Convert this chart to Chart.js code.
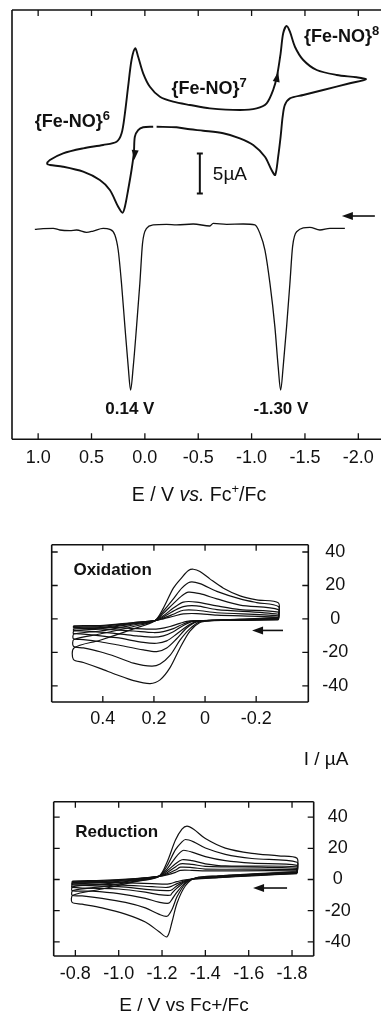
<!DOCTYPE html>
<html>
<head>
<meta charset="utf-8">
<title>CV Fe-NO</title>
<script src="https://cdn.jsdelivr.net/npm/chart.js@4.4.1/dist/chart.umd.min.js"></script>
<style>
  html, body { margin: 0; padding: 0; background: #fff; }
  body { width: 381px; height: 1013px; overflow: hidden; position: relative; }
  canvas { position: absolute; left: 0; }
</style>
</head>
<body>
<canvas id="cvTop" width="390" height="530" style="top:0"></canvas>
<canvas id="cvOx" width="381" height="250" style="top:520px"></canvas>
<canvas id="cvRed" width="381" height="233" style="top:780px"></canvas>
<script>
// ---------- DADOS ----------

// painel superior: voltametria cíclica (CV) e pulso diferencial (DPV)
const topTicksE = [1.0, 0.5, 0.0, -0.5, -1.0, -1.5, -2.0];
const cvE = [-0.078, 0.016, 0.063, 0.094, 0.103, 0.125, 0.157, 0.187, 0.209, 0.250, 0.328, 0.422, 0.578, 0.766, 0.890, 0.916,
  0.890, 0.766, 0.578, 0.391, 0.265, 0.218, 0.187, 0.157, 0.125, 0.091, 0.063, 0.016, -0.047, -0.141, -0.265, -0.422,
  -0.609, -0.890, -1.047, -1.141, -1.202, -1.240, -1.272, -1.296, -1.328, -1.359, -1.406, -1.484, -1.610, -1.797, -1.984, -2.071,
  -1.921, -1.671, -1.484, -1.359, -1.312, -1.291, -1.272, -1.249, -1.221, -1.187, -1.125, -1.015, -0.890, -0.734, -0.547, -0.422, -0.297, -0.110];
const cvI = [21.66, 21.59, 21.25, 20.41, 18.38, 16.25, 13.75, 11.66, 10.91, 11.66, 13.75, 15.0, 16.04, 16.66, 16.88, 17.0,
  17.5, 18.34, 18.96, 19.38, 19.79, 20.84, 23.34, 26.66, 30.0, 31.46, 30.41, 28.34, 26.66, 25.41, 24.79, 24.38,
  23.96, 23.75, 23.96, 24.59, 26.25, 28.13, 30.84, 33.34, 34.25, 33.54, 31.66, 30.0, 28.75, 28.13, 27.84, 27.59,
  27.09, 26.25, 25.63, 25.21, 24.38, 22.91, 20.41, 17.91, 15.63, 16.25, 17.91, 19.38, 20.21, 20.84, 21.16, 21.34, 21.59, 21.66];
const dpvE = [1.031, 0.953, 0.859, 0.797, 0.703, 0.640, 0.547, 0.484, 0.391, 0.328, 0.281, 0.250, 0.219, 0.187, 0.156, 0.134,
  0.109, 0.078, 0.047, 0.022, -0.016, -0.078, -0.203, -0.297, -0.453, -0.609, -0.640, -0.766, -0.922, -1.031, -1.078, -1.125,
  -1.172, -1.218, -1.249, -1.272, -1.296, -1.328, -1.359, -1.384, -1.422, -1.546, -1.640, -1.734, -1.874];
const dpvI = [8.83, 8.92, 8.96, 8.75, 8.67, 8.75, 8.46, 8.62, 8.96, 8.83, 8.13, 6.25, 2.08, -3.33, -8.33, -11.25,
  -8.33, -3.33, 2.08, 7.08, 8.96, 9.38, 9.46, 9.38, 9.5, 9.25, 9.58, 9.46, 9.5, 9.38, 8.33, 6.25,
  2.08, -3.33, -8.33, -11.25, -8.33, -3.33, 2.08, 6.67, 8.54, 9.08, 8.75, 8.96, 8.96];

// painel "Oxidation": várias velocidades de varredura
const oxTicksE = [0.4, 0.2, 0, -0.2];
const oxTicksI = [40, 20, 0, -20, -40];
const ox1E = [-0.287, -0.176, -0.072, -0.020, 0.020, 0.059, 0.098, 0.137, 0.176, 0.215, 0.280, 0.346, 0.411, 0.476, 0.515,
  0.513, 0.411, 0.280, 0.196, 0.163, 0.124, 0.091, 0.065, 0.046, 0.020, -0.020, -0.072, -0.137, -0.202, -0.287, -0.287];
const ox1I = [1.0, 0.1, -0.5, -1.0, -2.1, -7.2, -17.3, -29.1, -36.4, -38.6, -36.8, -33.3, -29.5, -26.0, -24.2,
  -17.3, -12.7, -5.9, -1.0, 6.5, 18.4, 24.7, 28.9, 29.7, 28.4, 23.8, 18.4, 13.8, 11.4, 9.6, 1.0];
const ox2E = [-0.287, -0.176, -0.072, 0.020, 0.059, 0.098, 0.137, 0.176, 0.209, 0.280, 0.346, 0.411, 0.476, 0.515,
  0.513, 0.411, 0.280, 0.196, 0.163, 0.124, 0.091, 0.059, 0.020, -0.046, -0.137, -0.202, -0.287, -0.287];
const ox2I = [0.6, -0.1, -0.6, -1.7, -5.8, -12.7, -21.8, -26.9, -28.2, -26.4, -22.7, -19.6, -17.3, -16.3,
  -12.3, -9.0, -4.5, -1.0, 4.7, 12.0, 18.4, 22.0, 21.1, 16.5, 12.0, 9.8, 7.4, 0.6];
const ox3E = [-0.287, -0.176, -0.046, 0.033, 0.072, 0.111, 0.150, 0.189, 0.241, 0.346, 0.411, 0.476, 0.515,
  0.513, 0.411, 0.280, 0.196, 0.163, 0.124, 0.091, 0.065, 0.020, -0.046, -0.137, -0.287, -0.287];
const ox3I = [0.5, -0.3, -0.8, -1.7, -5.4, -11.8, -17.3, -19.5, -18.5, -15.4, -13.6, -12.3, -11.8,
  -9.0, -7.2, -3.6, -1.0, 3.4, 9.2, 13.8, 16.0, 15.1, 12.0, 8.3, 5.6, 0.5];
const ox4E = [-0.287, -0.176, -0.046, 0.033, 0.072, 0.111, 0.150, 0.189, 0.241, 0.346, 0.476, 0.515,
  0.513, 0.411, 0.280, 0.196, 0.163, 0.124, 0.085, 0.033, -0.046, -0.137, -0.287, -0.287];
const ox4I = [0.1, -0.5, -0.8, -1.4, -4.5, -9.0, -13.1, -14.5, -14.0, -11.2, -9.0, -8.7,
  -7.2, -5.9, -3.0, -1.0, 1.9, 6.5, 10.1, 10.1, 7.8, 5.6, 4.1, 0.1];
const ox5E = [-0.287, -0.124, 0.046, 0.085, 0.124, 0.163, 0.202, 0.267, 0.346, 0.476, 0.515,
  0.513, 0.411, 0.280, 0.196, 0.163, 0.124, 0.085, 0.033, -0.046, -0.287, -0.287];
const ox5I = [-0.1, -0.6, -1.4, -3.9, -7.6, -10.1, -10.9, -10.1, -8.7, -7.2, -6.8,
  -6.1, -5.2, -2.6, -1.0, 1.2, 4.7, 7.4, 7.8, 5.6, 2.8, -0.1];
const ox6E = [-0.287, -0.124, 0.046, 0.085, 0.124, 0.163, 0.202, 0.280, 0.411, 0.515,
  0.513, 0.411, 0.280, 0.196, 0.163, 0.124, 0.085, 0.033, -0.046, -0.287, -0.287];
const ox6I = [-0.3, -0.8, -1.2, -3.0, -5.8, -7.6, -8.1, -7.2, -5.9, -5.4,
  -5.0, -4.5, -2.3, -1.0, 0.5, 2.8, 5.2, 5.2, 3.7, 1.9, -0.3];
const ox7E = [-0.287, -0.124, 0.059, 0.098, 0.137, 0.176, 0.215, 0.346, 0.515,
  0.513, 0.411, 0.280, 0.196, 0.163, 0.124, 0.085, 0.033, -0.046, -0.287, -0.287];
const ox7I = [-0.5, -0.8, -1.2, -2.6, -4.5, -5.8, -6.1, -5.2, -4.5,
  -4.1, -3.9, -2.1, -1.0, 0.1, 1.6, 3.0, 3.2, 2.3, 1.0, -0.5];

// painel "Reduction"
const redTicksE = [-0.8, -1.0, -1.2, -1.4, -1.6, -1.8];
const redTicksI = [40, 20, 0, -20, -40];
const red1E = [-1.823, -1.615, -1.462, -1.354, -1.308, -1.269, -1.246, -1.223, -1.185, -1.123, -1.031, -0.923, -0.831, -0.785,
  -0.788, -0.923, -1.077, -1.185, -1.223, -1.262, -1.292, -1.315, -1.346, -1.400, -1.492, -1.615, -1.738, -1.823, -1.823];
const red1I = [5.1, 3.6, 2.4, 1.0, -4.0, -15.2, -27.3, -36.8, -33.3, -27.3, -22.2, -18.2, -15.8, -14.7,
  -10.1, -6.1, -1.4, 2.0, 11.1, 25.3, 32.3, 34.3, 32.3, 26.3, 20.2, 16.8, 15.2, 13.7, 5.1];
const red2E = [-1.823, -1.615, -1.462, -1.354, -1.308, -1.269, -1.246, -1.223, -1.185, -1.123, -1.031, -0.923, -0.831, -0.785,
  -0.788, -0.923, -1.077, -1.185, -1.223, -1.262, -1.292, -1.308, -1.346, -1.400, -1.492, -1.615, -1.823, -1.823];
const red2I = [4.8, 3.4, 2.2, 1.0, -2.6, -11.1, -19.2, -23.6, -22.2, -18.2, -14.7, -12.1, -10.5, -10.1,
  -7.1, -4.6, -1.0, 2.0, 8.7, 19.2, 24.2, 25.7, 24.2, 20.2, 16.2, 13.5, 11.1, 4.8];
const red3E = [-1.823, -1.615, -1.462, -1.354, -1.308, -1.269, -1.246, -1.231, -1.185, -1.123, -1.000, -0.877, -0.785,
  -0.788, -0.923, -1.077, -1.185, -1.223, -1.262, -1.285, -1.300, -1.338, -1.400, -1.492, -1.615, -1.823, -1.823];
const red3I = [4.6, 3.2, 2.0, 0.8, -2.0, -8.1, -12.7, -15.2, -14.5, -12.1, -9.1, -7.5, -7.1,
  -4.6, -3.0, -0.6, 2.0, 6.7, 14.1, 17.6, 18.8, 17.6, 14.7, 12.1, 10.5, 9.1, 4.6];
const red4E = [-1.823, -1.615, -1.462, -1.354, -1.308, -1.269, -1.246, -1.238, -1.185, -1.123, -1.000, -0.785,
  -0.788, -0.923, -1.077, -1.185, -1.223, -1.262, -1.292, -1.338, -1.400, -1.492, -1.823, -1.823];
const red4I = [4.4, 3.0, 1.8, 0.8, -1.4, -5.5, -8.7, -10.1, -9.7, -8.1, -6.1, -5.1,
  -3.0, -2.0, -0.2, 2.0, 5.5, 10.1, 12.7, 12.1, 10.1, 8.7, 8.1, 4.4];
const red5E = [-1.823, -1.615, -1.462, -1.354, -1.308, -1.269, -1.246, -1.231, -1.154, -1.000, -0.785,
  -0.788, -0.923, -1.077, -1.185, -1.223, -1.262, -1.285, -1.338, -1.400, -1.823, -1.823];
const red5I = [4.2, 2.8, 1.6, 0.6, -1.0, -4.0, -6.5, -7.1, -6.7, -4.6, -3.4,
  -2.0, -1.4, 0.2, 2.0, 4.4, 8.1, 10.1, 9.7, 8.5, 7.1, 4.2];
const red6E = [-1.823, -1.615, -1.462, -1.354, -1.308, -1.269, -1.246, -1.223, -1.154, -1.000, -0.785,
  -0.788, -0.923, -1.077, -1.185, -1.223, -1.262, -1.285, -1.338, -1.400, -1.823, -1.823];
const red6I = [4.0, 2.6, 1.4, 0.6, -0.6, -2.6, -4.2, -5.1, -4.6, -3.4, -2.6,
  -1.6, -1.0, 0.4, 2.0, 3.6, 6.1, 7.9, 7.7, 6.7, 6.3, 4.0];
const red7E = [-1.823, -1.615, -1.462, -1.354, -1.308, -1.269, -1.238, -1.215, -1.154, -1.000, -0.785,
  -0.788, -0.923, -1.077, -1.185, -1.223, -1.262, -1.285, -1.338, -1.400, -1.823, -1.823];
const red7I = [3.8, 2.4, 1.2, 0.4, -0.2, -1.4, -2.6, -3.0, -2.6, -2.0, -1.6,
  -1.0, -0.6, 0.6, 2.0, 3.0, 4.6, 5.9, 5.9, 5.5, 5.5, 3.8];

// ---------- AUXILIARES ----------
const FONT = "'Liberation Sans', Arial, Helvetica, sans-serif";
const INK = '#111';

function pts(es, is) {
  return es.map((e, k) => ({ x: e, y: is[k] }));
}

// força os ticks de uma escala a partir de uma lista
function fixTicks(values) {
  return function (scale) { scale.ticks = values.map(v => ({ value: v })); };
}

// texto com partes de fontes diferentes (sobrescrito, itálico)
function richText(ctx, x, y, parts, align) {
  let w = 0;
  parts.forEach(p => { ctx.font = p[1]; w += ctx.measureText(p[0]).width; });
  let cx = align === 'center' ? x - w / 2 : x;
  ctx.textAlign = 'left';
  ctx.textBaseline = 'alphabetic';
  parts.forEach(p => {
    ctx.font = p[1];
    ctx.fillText(p[0], cx, y + (p[2] || 0));
    cx += ctx.measureText(p[0]).width;
  });
}

// ponta de seta com a ponta em (x,y) apontando na direção (ux,uy)
function arrowHead(ctx, x, y, ux, uy, len, half) {
  const n = Math.hypot(ux, uy); ux /= n; uy /= n;
  len = len || 10; half = half || 3.5;
  const bx = x - ux * len, by = y - uy * len;
  ctx.beginPath();
  ctx.moveTo(x, y);
  ctx.lineTo(bx - uy * half, by + ux * half);
  ctx.lineTo(bx + uy * half, by - ux * half);
  ctx.closePath();
  ctx.fill();
}

// seta horizontal: da cauda (xt) até a ponta (xh)
function arrowLine(ctx, xt, xh, y) {
  ctx.lineWidth = 1.6;
  ctx.beginPath();
  ctx.moveTo(xt, y);
  ctx.lineTo(xh + 6, y);
  ctx.stroke();
  arrowHead(ctx, xh, y, xh - xt, 0, 11, 4);
}

// moldura e marcas de escala voltadas para dentro
function framePlugin(sides, withY, lw) {
  return {
    id: 'frame',
    afterDraw(chart) {
      const { ctx, chartArea: a, scales } = chart;
      ctx.save();
      ctx.strokeStyle = INK;
      ctx.lineWidth = lw;
      ctx.beginPath();
      if (sides.includes('t')) { ctx.moveTo(a.left, a.top); ctx.lineTo(a.right, a.top); }
      if (sides.includes('b')) { ctx.moveTo(a.left, a.bottom); ctx.lineTo(a.right, a.bottom); }
      if (sides.includes('l')) { ctx.moveTo(a.left, a.top); ctx.lineTo(a.left, a.bottom); }
      if (sides.includes('r')) { ctx.moveTo(a.right, a.top); ctx.lineTo(a.right, a.bottom); }
      ctx.stroke();
      ctx.lineWidth = 1.3;
      ctx.beginPath();
      scales.x.ticks.forEach(t => {
        const px = scales.x.getPixelForValue(t.value);
        ctx.moveTo(px, a.bottom); ctx.lineTo(px, a.bottom - 6);
        ctx.moveTo(px, a.top); ctx.lineTo(px, a.top + 6);
      });
      if (withY) {
        scales.y.ticks.forEach(t => {
          const py = scales.y.getPixelForValue(t.value);
          ctx.moveTo(a.left, py); ctx.lineTo(a.left + 6, py);
          ctx.moveTo(a.right, py); ctx.lineTo(a.right - 6, py);
        });
      }
      ctx.stroke();
      ctx.restore();
    }
  };
}

function fmtE(v) {
  return v === 0 ? '0' : v.toFixed(1);
}

function baseOptions(padding) {
  return {
    responsive: false,
    animation: false,
    events: [],
    layout: { padding: padding },
    plugins: { legend: { display: false }, tooltip: { enabled: false } }
  };
}

function xAxis(min, max, ticks, height, pad, fmt) {
  return {
    type: 'linear', reverse: true, min: min, max: max,
    afterBuildTicks: fixTicks(ticks),
    afterFit: s => { s.height = height; },
    grid: { display: false, drawTicks: false },
    border: { display: false },
    ticks: { font: { family: FONT, size: 18 }, color: INK, padding: pad, maxRotation: 0, autoSkip: false, callback: fmt }
  };
}

function yRight(min, max, ticks, width, pad) {
  return {
    type: 'linear', position: 'right', min: min, max: max,
    afterBuildTicks: fixTicks(ticks),
    afterFit: s => { s.width = width; },
    grid: { display: false, drawTicks: false },
    border: { display: false },
    ticks: { font: { family: FONT, size: 18 }, color: INK, padding: pad, crossAlign: 'center' }
  };
}

function lineSet(es, is, w) {
  return { data: pts(es, is), borderColor: INK, borderWidth: w, pointRadius: 0, tension: 0.3, fill: false };
}

// ---------- PAINEL SUPERIOR ----------
const topDeco = {
  id: 'topDeco',
  afterDraw(chart) {
    const { ctx, scales: { x, y } } = chart;
    const X = v => x.getPixelForValue(v), Y = v => y.getPixelForValue(v);
    const B = 'bold 18px ' + FONT, S = 'bold 13px ' + FONT;
    ctx.save();
    ctx.fillStyle = INK; ctx.strokeStyle = INK;
    richText(ctx, X(1.031), Y(21.6), [['{Fe-NO}', B], ['6', S, -7]]);
    richText(ctx, X(-0.25), Y(25.75), [['{Fe-NO}', B], ['7', S, -7]]);
    richText(ctx, X(-1.49), Y(32.25), [['{Fe-NO}', B], ['8', S, -7]]);
    richText(ctx, X(0.141), Y(-14.25), [['0.14 V', 'bold 17px ' + FONT]], 'center');
    richText(ctx, X(-1.275), Y(-14.25), [['-1.30 V', 'bold 17px ' + FONT]], 'center');
    // barra de escala de 5 µA
    const bx = X(-0.515), b1 = Y(13.3), b2 = Y(18.3);
    ctx.lineWidth = 2;
    ctx.beginPath();
    ctx.moveTo(bx, b1); ctx.lineTo(bx, b2);
    ctx.moveTo(bx - 3, b1); ctx.lineTo(bx + 3, b1);
    ctx.moveTo(bx - 3, b2); ctx.lineTo(bx + 3, b2);
    ctx.stroke();
    richText(ctx, X(-0.637), Y(15.0), [['5µA', '19px ' + FONT]]);
    // setas de sentido de varredura
    arrowHead(ctx, X(0.100), Y(17.5), -0.1, 1);
    arrowHead(ctx, X(-1.249), Y(28.5), 0.2, -1);
    arrowLine(ctx, X(-2.155), X(-1.846), Y(10.5));
    // título do eixo x
    const R = '19.5px ' + FONT;
    richText(ctx, 199, 500.5, [['E / V ', R], ['vs.', 'italic ' + R], [' Fc', R], ['+', '13px ' + FONT, -8], ['/Fc', R]], 'center');
    ctx.restore();
  }
};

const topOpts = baseOptions({ left: 12, top: 10, right: 5, bottom: 0 });
topOpts.scales = {
  x: xAxis(-2.25, 1.245, topTicksE, 90.7, 8, v => v.toFixed(1)),
  y: { type: 'linear', display: false, min: -17.41, max: 36.25 }
};
new Chart(document.getElementById('cvTop'), {
  type: 'line',
  data: { datasets: [
    lineSet(cvE, cvI, 1.9),
    { data: pts(dpvE, dpvI), borderColor: INK, borderWidth: 1.3, pointRadius: 0, cubicInterpolationMode: 'monotone', fill: false }
  ] },
  options: topOpts,
  plugins: [framePlugin('tbl', false, 1.6), topDeco]
});

// ---------- PAINEL OXIDAÇÃO ----------
const oxDeco = {
  id: 'oxDeco',
  afterDraw(chart) {
    const { ctx, scales: { x, y } } = chart;
    const X = v => x.getPixelForValue(v), Y = v => y.getPixelForValue(v);
    ctx.save();
    ctx.fillStyle = INK; ctx.strokeStyle = INK;
    richText(ctx, X(0.515), Y(26.0), [['Oxidation', 'bold 17px ' + FONT]]);
    arrowLine(ctx, X(-0.305), X(-0.184), Y(-6.85));
    richText(ctx, 326, 245, [['I / µA', '19px ' + FONT]], 'center');
    ctx.restore();
  }
};
const oxOpts = baseOptions({ left: 51.7, top: 10.7, right: 0, bottom: 0 });
oxOpts.scales = {
  x: xAxis(-0.404, 0.6, oxTicksE, 68, 6, fmtE),
  y: yRight(-49.6, 44.3, oxTicksI, 72.7, 14)
};
new Chart(document.getElementById('cvOx'), {
  type: 'line',
  data: { datasets: [
    [ox1E, ox1I], [ox2E, ox2I], [ox3E, ox3I], [ox4E, ox4I], [ox5E, ox5I], [ox6E, ox6I], [ox7E, ox7I]
  ].map(c => lineSet(c[0], c[1], 1.2)) },
  options: oxOpts,
  plugins: [framePlugin('tblr', true, 1.6), oxDeco]
});

// ---------- PAINEL REDUÇÃO ----------
const redDeco = {
  id: 'redDeco',
  afterDraw(chart) {
    const { ctx, scales: { x, y } } = chart;
    const X = v => x.getPixelForValue(v), Y = v => y.getPixelForValue(v);
    ctx.save();
    ctx.fillStyle = INK; ctx.strokeStyle = INK;
    richText(ctx, X(-0.799), Y(27.3), [['Reduction', 'bold 17px ' + FONT]]);
    arrowLine(ctx, X(-1.777), X(-1.620), Y(-5.45));
    richText(ctx, 184, 231, [['E / V vs Fc+/Fc', '19px ' + FONT]], 'center');
    ctx.restore();
  }
};
const redOpts = baseOptions({ left: 53.7, top: 12.7, right: 0, bottom: 0 });
redOpts.scales = {
  x: xAxis(-1.9, -0.7, redTicksE, 57, 7, fmtE),
  y: yRight(-49.1, 49.9, redTicksI, 67.3, 11)
};
new Chart(document.getElementById('cvRed'), {
  type: 'line',
  data: { datasets: [
    [red1E, red1I], [red2E, red2I], [red3E, red3I], [red4E, red4I], [red5E, red5I], [red6E, red6I], [red7E, red7I]
  ].map(c => lineSet(c[0], c[1], 1.2)) },
  options: redOpts,
  plugins: [framePlugin('tblr', true, 1.6), redDeco]
});
</script>
</body>
</html>
